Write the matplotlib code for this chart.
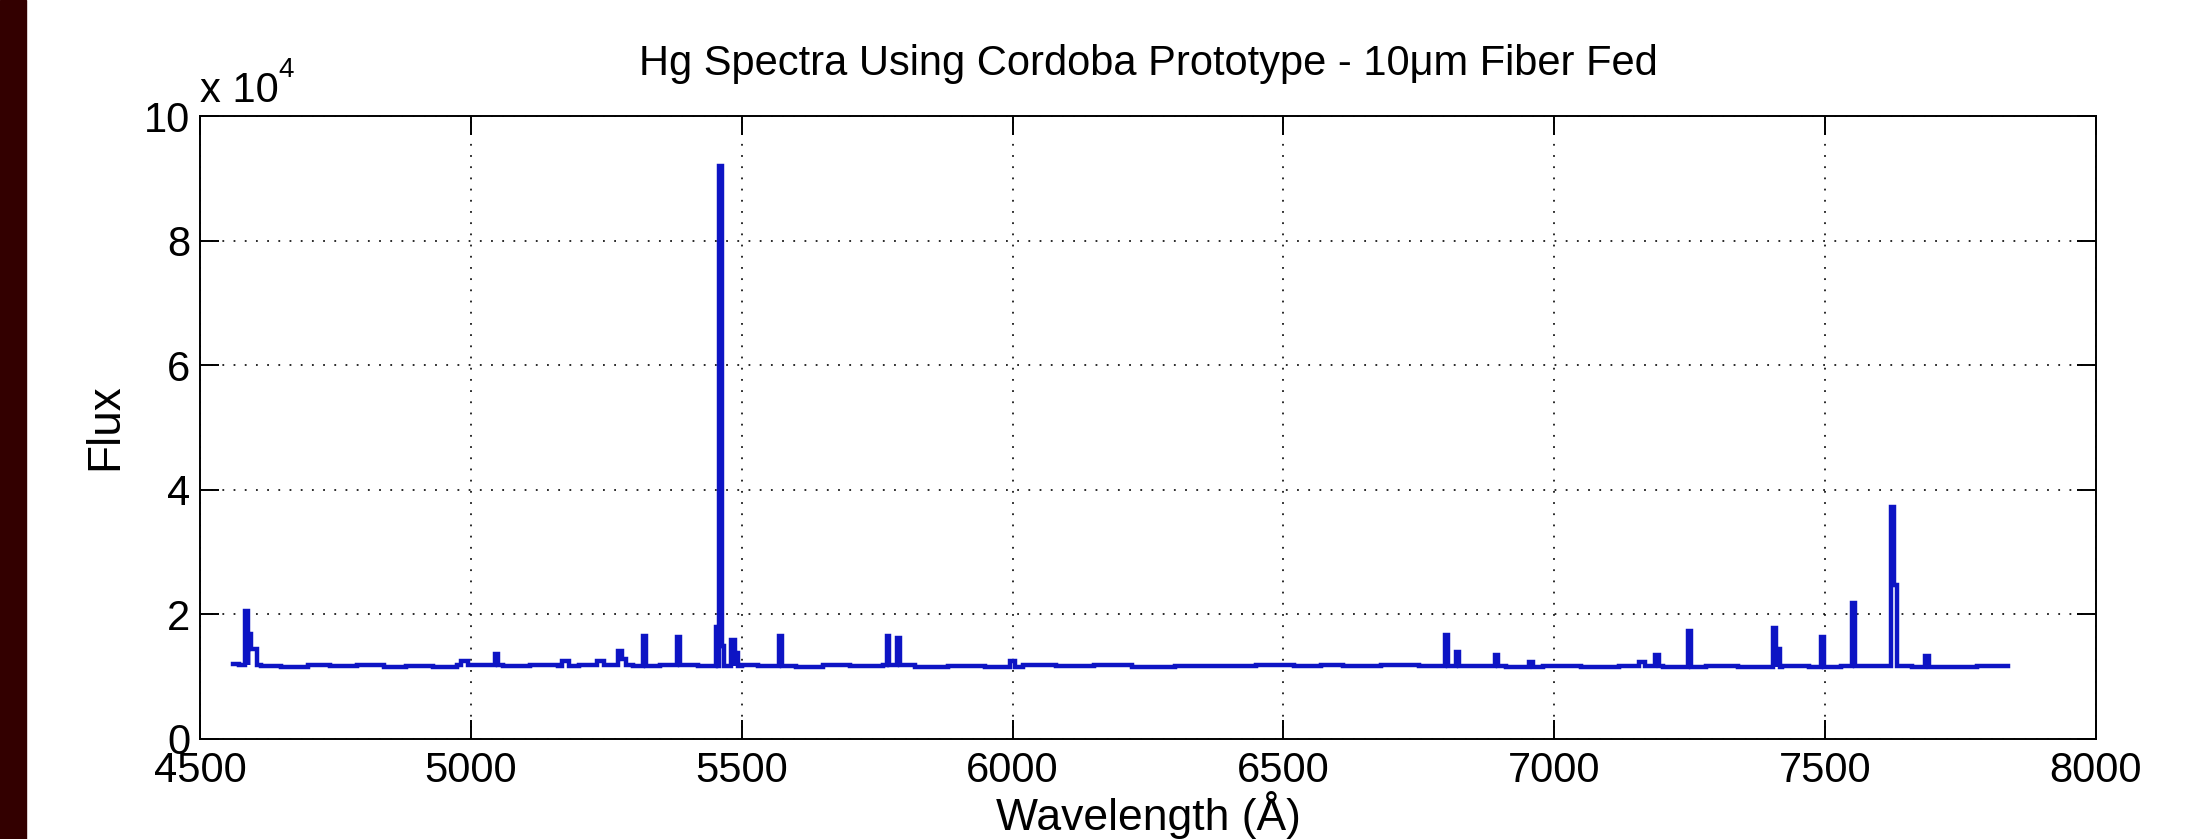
import numpy as np
import matplotlib
matplotlib.use("Agg")
import matplotlib.pyplot as plt
from matplotlib.ticker import FuncFormatter, MultipleLocator
from matplotlib.patches import Rectangle

# Espectro de Hg: continuo (tramos) + lineas de emision

# continuo: cada valor vale desde base_wl[i] hasta base_wl[i+1]
base_wl = [4560, 4572, 4612, 4650, 4700, 4740, 4790, 4840, 4880, 4930,
           4975, 5010, 5060, 5110, 5160, 5200, 5260, 5300, 5350, 5420,
           5500, 5530, 5600, 5650, 5700, 5760, 5820, 5880, 5950, 6020,
           6080, 6150, 6220, 6300, 6380, 6450, 6520, 6570, 6610, 6680,
           6750, 6840, 6910, 6980, 7050, 7120, 7200, 7280, 7340, 7420,
           7470, 7530, 7600, 7660, 7720, 7780, 7838]
base_flux = [12100, 11900, 11750, 11600, 11800, 11650, 11800, 11600, 11750, 11600,
             11800, 11900, 11700, 11850, 11650, 11800, 11900, 11750, 11850, 11700,
             11900, 11700, 11600, 11800, 11650, 11800, 11600, 11750, 11600, 11850,
             11650, 11800, 11600, 11750, 11650, 11850, 11700, 11900, 11650, 11800,
             11650, 11750, 11600, 11700, 11600, 11750, 11550, 11700, 11600, 11700,
             11550, 11650, 11700, 11600, 11550, 11650, 11650]

# lineas: centro (A), ancho (A), altura (cuentas)
line_wl = [4586, 4592, 4600, 4988, 5047, 5175, 5239, 5275, 5283, 5320,
           5383, 5455, 5461, 5466, 5484, 5490, 5572, 5770, 5790, 6000,
           6801, 6821, 6894, 6957, 7162, 7190, 7250, 7407, 7413, 7495,
           7552, 7624, 7630, 7688]
line_width = [5, 6, 10, 12, 5, 12, 12, 8, 8, 5,
              5, 4, 7, 4, 6, 5, 5, 5, 5, 10,
              5, 6, 6, 8, 10, 8, 5, 5, 6, 5,
              5, 6, 6, 6]
line_flux = [20500, 16800, 14400, 12600, 13600, 12500, 12500, 14100, 12900, 16500,
             16400, 18000, 92000, 15000, 15900, 13800, 16600, 16600, 16200, 12500,
             16700, 14000, 13500, 12400, 12400, 13500, 17300, 17800, 14500, 16300,
             21800, 37300, 24700, 13400]

xticks = [4500, 5000, 5500, 6000, 6500, 7000, 7500, 8000]

# armar la serie escalonada
ini = np.array(line_wl) - np.array(line_width) / 2
fin = np.array(line_wl) + np.array(line_width) / 2
bordes = np.unique(np.concatenate([base_wl, ini, fin]))
valores = []
for b in bordes:
    k = np.searchsorted(base_wl, b, side="right") - 1
    v = base_flux[min(k, len(base_flux) - 1)]
    dentro = (ini <= b) & (b < fin)
    if dentro.any():
        v = max(v, np.array(line_flux)[dentro].max())
    valores.append(v)

plt.rcParams["font.family"] = ["Liberation Sans", "DejaVu Sans"]

fig = plt.figure(figsize=(22.08, 8.39), dpi=100)
fig.patches.append(Rectangle((0, 0), 26 / 2208, 1, transform=fig.transFigure,
                             color="#330000", zorder=0))
ax = fig.add_axes([200 / 2208, 1 - 739 / 839, 1896 / 2208, 623 / 839])

ax.plot(bordes, valores, drawstyle="steps-post", color="#0d14c4", lw=3.2,
        solid_joinstyle="miter")

ax.set_xlim(4500, 8000)
ax.set_ylim(0, 1e5)
ax.set_xticks(xticks)
ax.yaxis.set_major_locator(MultipleLocator(2e4))
ax.yaxis.set_major_formatter(FuncFormatter(lambda v, p: f"{v / 1e4:.0f}"))
ax.tick_params(direction="in", length=14, width=1.4, top=True, right=True,
               labelsize=30)
ax.tick_params(axis="x", pad=9)
ax.tick_params(axis="y", pad=7)
for s in ax.spines.values():
    s.set_linewidth(1.4)
ax.set_axisbelow(True)
ax.grid(True, color="k", alpha=0.9, lw=1.3, linestyle=(0, (1, 5.2)))

cx = (200 + 1896 / 2) / 2208
fig.text(cx, 1 - 75 / 839, "Hg Spectra Using Cordoba Prototype - 10μm Fiber Fed",
         ha="center", va="baseline", fontsize=30)
fig.text(cx, 1 - 830 / 839, "Wavelength (Å)", ha="center", va="baseline", fontsize=32)
fig.text(105 / 2208, 1 - 427 / 839, "Flux", rotation=90, ha="center", va="center",
         fontsize=33)
fig.text(200 / 2208, 1 - 102 / 839, "x 10", ha="left", va="baseline", fontsize=30)
fig.text(278 / 2208, 1 - 77 / 839, "4", ha="left", va="baseline", fontsize=20)

fig.savefig("out.png", dpi=100)
